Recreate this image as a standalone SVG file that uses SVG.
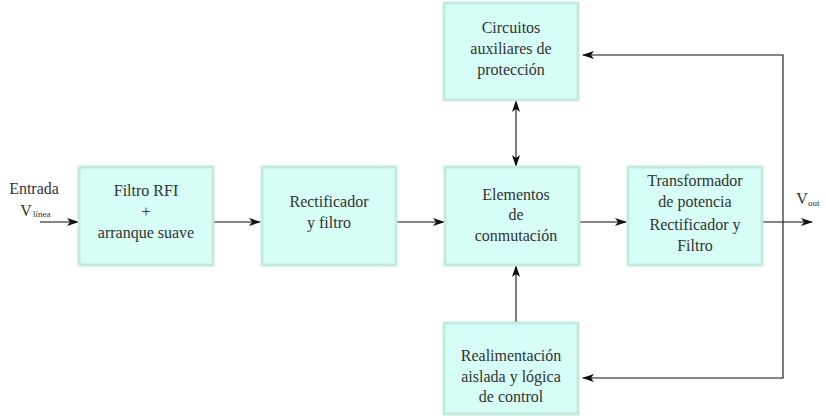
<svg xmlns="http://www.w3.org/2000/svg" width="826" height="416" viewBox="0 0 826 416">
<style>
.box{fill:#d6fdf6;stroke:#c2ebde;stroke-width:3}
text{font-family:'Liberation Serif','DejaVu Serif',serif;fill:#333}
.t{font-size:16px;text-anchor:middle}
.s{font-size:9px}
.l{fill:none;stroke:#111;stroke-width:1.1}
</style>
<defs>
<marker id="a" viewBox="0 0 12 8" refX="11" refY="4" markerWidth="12" markerHeight="8" markerUnits="userSpaceOnUse" orient="auto-start-reverse">
<path d="M0,0 L12,4 L0,8 L3,4 Z" fill="#111"/>
</marker>
</defs>
<g id="connectors">
<line class="l" x1="40" y1="222" x2="78" y2="222" marker-end="url(#a)"/>
<line class="l" x1="213" y1="222" x2="260" y2="222" marker-end="url(#a)"/>
<line class="l" x1="397" y1="222" x2="444" y2="222" marker-end="url(#a)"/>
<line class="l" x1="579" y1="222" x2="626" y2="222" marker-end="url(#a)"/>
<line class="l" x1="763" y1="222" x2="812" y2="222" marker-end="url(#a)"/>
<line class="l" x1="516" y1="101" x2="516" y2="166" marker-start="url(#a)" marker-end="url(#a)"/>
<line class="l" x1="516" y1="322" x2="516" y2="266" marker-end="url(#a)"/>
<polyline class="l" points="783,222 783,55 583,55" marker-end="url(#a)"/>
<polyline class="l" points="783,222 783,378 583,378" marker-end="url(#a)"/>
</g>
<g id="input">
<text class="t" x="34" y="194">Entrada</text>
<text class="t" x="26" y="216">V</text>
<text class="s" x="33" y="217">línea</text>
</g>
<g id="filtro">
<rect class="box" x="79" y="167" width="134" height="98"/>
<text class="t" x="146" y="196">Filtro RFI</text>
<text class="t" x="146" y="217">+</text>
<text class="t" x="146" y="238">arranque suave</text>
</g>
<g id="rectificador">
<rect class="box" x="262" y="167" width="134" height="98"/>
<text class="t" x="329" y="207">Rectificador</text>
<text class="t" x="329" y="228">y filtro</text>
</g>
<g id="elementos">
<rect class="box" x="445" y="167" width="134" height="98"/>
<text class="t" x="516" y="200">Elementos</text>
<text class="t" x="516" y="220">de</text>
<text class="t" x="516" y="241">conmutación</text>
</g>
<g id="transformador">
<rect class="box" x="628" y="167" width="134" height="98"/>
<text class="t" x="695" y="186">Transformador</text>
<text class="t" x="695" y="207">de potencia</text>
<text class="t" x="695" y="230">Rectificador y</text>
<text class="t" x="695" y="251">Filtro</text>
</g>
<g id="circuitos">
<rect class="box" x="444" y="3" width="134" height="97"/>
<text class="t" x="511" y="33">Circuitos</text>
<text class="t" x="511" y="54">auxiliares de</text>
<text class="t" x="511" y="75">protección</text>
</g>
<g id="realimentacion">
<rect class="box" x="444" y="323" width="134" height="91"/>
<text class="t" x="511" y="361">Realimentación</text>
<text class="t" x="511" y="382">aislada y lógica</text>
<text class="t" x="511" y="402">de control</text>
</g>
<g id="output">
<text class="t" x="802" y="204">V</text>
<text class="s" x="808" y="206">out</text>
</g>
</svg>
